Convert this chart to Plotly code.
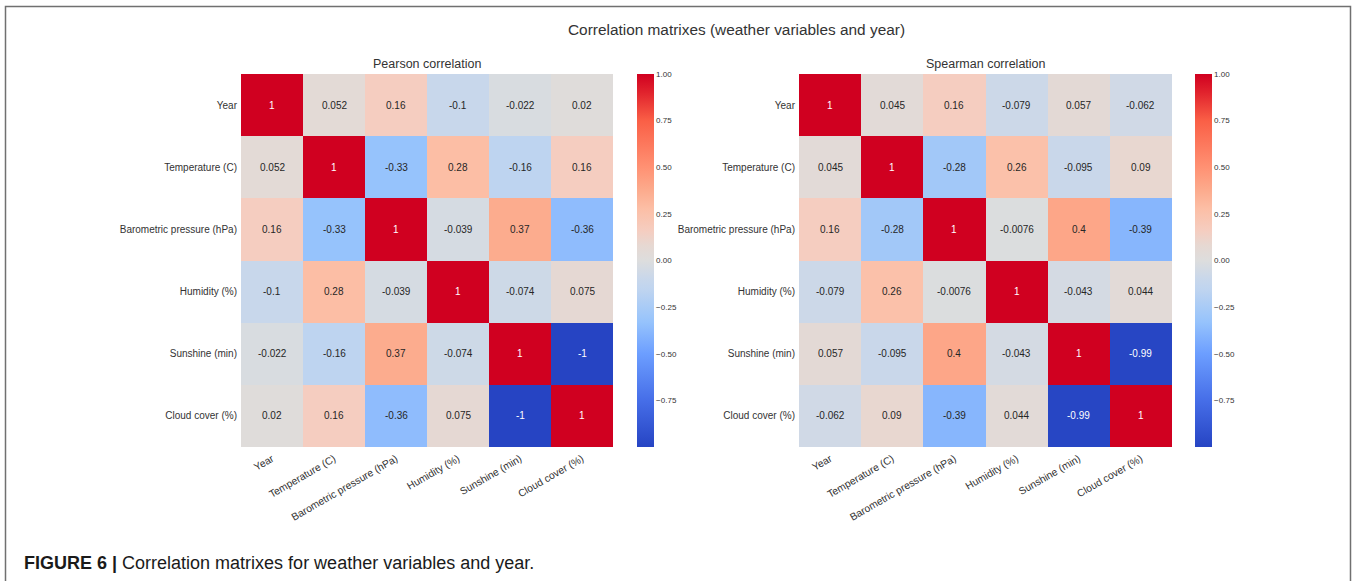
import plotly.graph_objects as go

W, H = 1354, 581

variables = ["Year", "Temperature (C)", "Barometric pressure (hPa)",
             "Humidity (%)", "Sunshine (min)", "Cloud cover (%)"]

pearson = [
    [1, 0.052, 0.16, -0.1, -0.022, 0.02],
    [0.052, 1, -0.33, 0.28, -0.16, 0.16],
    [0.16, -0.33, 1, -0.039, 0.37, -0.36],
    [-0.1, 0.28, -0.039, 1, -0.074, 0.075],
    [-0.022, -0.16, 0.37, -0.074, 1, -1],
    [0.02, 0.16, -0.36, 0.075, -1, 1],
]

spearman = [
    [1, 0.045, 0.16, -0.079, 0.057, -0.062],
    [0.045, 1, -0.28, 0.26, -0.095, 0.09],
    [0.16, -0.28, 1, -0.0076, 0.4, -0.39],
    [-0.079, 0.26, -0.0076, 1, -0.043, 0.044],
    [0.057, -0.095, 0.4, -0.043, 1, -0.99],
    [-0.062, 0.09, -0.39, 0.044, -0.99, 1],
]

cbar_ticks = [-0.75, -0.5, -0.25, 0.0, 0.25, 0.5, 0.75, 1.0]

colorscale = [
    [0.0, "rgb(38,68,195)"],
    [0.125, "rgb(70,110,232)"],
    [0.25, "rgb(108,158,255)"],
    [0.335, "rgb(150,195,252)"],
    [0.42, "rgb(190,212,240)"],
    [0.45, "rgb(200,215,235)"],
    [0.5, "rgb(221,221,221)"],
    [0.54, "rgb(230,216,210)"],
    [0.58, "rgb(245,205,192)"],
    [0.64, "rgb(252,190,165)"],
    [0.69, "rgb(252,170,140)"],
    [0.75, "rgb(255,145,115)"],
    [0.875, "rgb(250,95,70)"],
    [0.95, "rgb(225,35,45)"],
    [1.0, "rgb(208,0,32)"],
]

FONT = "Liberation Sans, Arial, sans-serif"
TXT = "#333333"


def px_x(p):
    return p / W


def px_y(p):
    return 1 - p / H


top, bottom = 74, 447
panels = [
    ("Pearson correlation", pearson, 241, 613, 637, ""),
    ("Spearman correlation", spearman, 799, 1172, 1195, "2"),
]

fig = go.Figure()
annotations = []

for title, mat, x0, x1, cbx, sfx in panels:
    fig.add_trace(go.Heatmap(
        z=mat, x=variables, y=variables,
        zmin=-1, zmax=1, colorscale=colorscale,
        xaxis="x" + sfx, yaxis="y" + sfx,
        hoverinfo="skip",
        colorbar=dict(
            x=px_x(cbx), xanchor="left", xpad=0, ypad=0,
            y=px_y((top + bottom) / 2), yanchor="middle",
            len=(bottom - top) / H, lenmode="fraction",
            thickness=17, thicknessmode="pixels",
            outlinewidth=0, ticks="", tickvals=cbar_ticks,
            tickformat=".2f", ticklabelposition="outside",
            tickfont=dict(family=FONT, size=8, color=TXT),
        ),
    ))
    for i, row in enumerate(mat):
        for j, v in enumerate(row):
            annotations.append(dict(
                x=variables[j], y=variables[i],
                xref="x" + sfx, yref="y" + sfx,
                text=f"{v:.2g}", showarrow=False,
                font=dict(family=FONT, size=10,
                          color="white" if abs(v) > 0.7 else "#262626"),
            ))
    annotations.append(dict(
        x=px_x((x0 + x1) / 2), y=px_y(64), xref="paper", yref="paper",
        text=title, showarrow=False, xanchor="center", yanchor="middle",
        font=dict(family=FONT, size=12.5, color=TXT),
    ))
    fig.layout["xaxis" + sfx] = dict(
        domain=[px_x(x0), px_x(x1)], anchor="y" + sfx,
        tickangle=-30, showgrid=False, zeroline=False, ticks="",
        ticklabelstandoff=3,
        tickfont=dict(family=FONT, size=10.3, color=TXT),
    )
    fig.layout["yaxis" + sfx] = dict(
        domain=[px_y(bottom), px_y(top)], anchor="x" + sfx,
        autorange="reversed", showgrid=False, zeroline=False, ticks="",
        ticklabelstandoff=3,
        tickfont=dict(family=FONT, size=10, color=TXT),
    )

annotations.append(dict(
    x=px_x(736), y=px_y(29), xref="paper", yref="paper",
    text="Correlation matrixes (weather variables and year)", showarrow=False,
    xanchor="center", yanchor="middle",
    font=dict(family=FONT, size=15.4, color=TXT),
))
annotations.append(dict(
    x=px_x(22), y=px_y(563), xref="paper", yref="paper",
    text="<b>FIGURE 6 |</b> Correlation matrixes for weather variables and year.",
    showarrow=False, xanchor="left", yanchor="middle",
    font=dict(family=FONT, size=18, color="#1a1a1a"),
))

fig.update_layout(
    width=W, height=H,
    margin=dict(l=0, r=0, t=0, b=0),
    paper_bgcolor="white", plot_bgcolor="white",
    annotations=annotations,
    shapes=[dict(
        type="path", xref="paper", yref="paper",
        path=f"M {px_x(5.5)},{px_y(600)} L {px_x(5.5)},{px_y(6.5)} "
             f"L {px_x(1350.5)},{px_y(6.5)} L {px_x(1350.5)},{px_y(600)}",
        line=dict(color="#707070", width=1.5),
    )],
    showlegend=False,
)

fig.write_html("out.html",
               config={"displayModeBar": False},
               post_script="document.body.style.margin='0px';"
                           "document.body.style.overflow='hidden';")
